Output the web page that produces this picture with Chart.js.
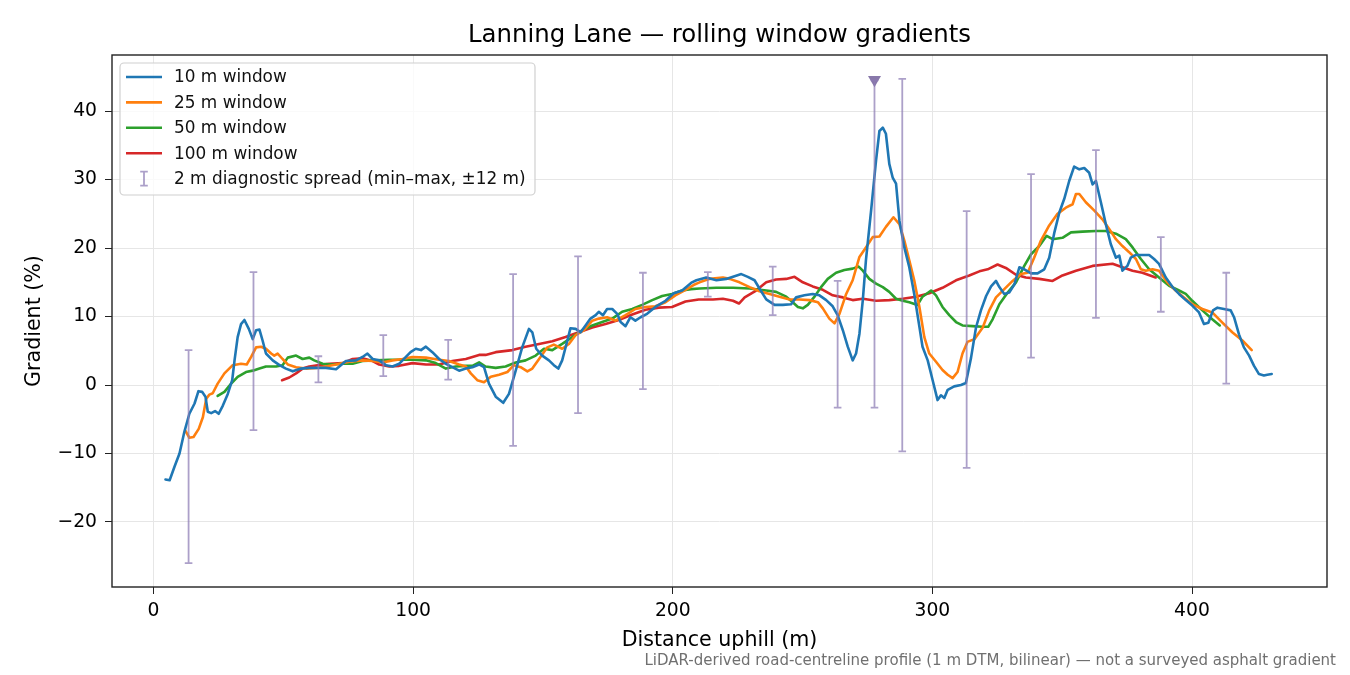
<!DOCTYPE html>
<html>
<head>
<meta charset="utf-8">
<title>Lanning Lane — rolling window gradients</title>
<script src="https://cdn.jsdelivr.net/npm/chart.js@4.4.1/dist/chart.umd.min.js"></script>
<style>
  html, body { margin: 0; padding: 0; background: #fff; }
  canvas { display: block; }
</style>
</head>
<body>
<canvas id="grafica" width="1350" height="675"></canvas>
<script>
// [distance m, gradient %]
const win10 = [
  [4.6,-13.8],[6.2,-13.9],[8.1,-11.9],[10,-10],[11.9,-6.8],[13.8,-4.2],[15.8,-2.7],[17.3,-0.9],[18.7,-1.0],[20,-1.7],
  [20.9,-3.9],[22.2,-4.1],[23.7,-3.8],[25.1,-4.2],[26.7,-3.0],[28.6,-1.3],[30.3,0.7],[31.2,3.6],[32.4,7.0],[33.7,8.9],
  [35,9.5],[36.7,8.2],[38.2,6.7],[39.5,8.0],[40.8,8.1],[42,6.5],[43.3,4.6],[45.9,3.6],[48.5,2.9],[51,2.4],
  [53.6,2.0],[56.8,2.4],[60,2.5],[63.2,2.5],[66.4,2.5],[70.3,2.3],[74.1,3.5],[78,3.6],[80.5,4.1],[82.4,4.6],
  [84.4,3.8],[86.9,3.6],[89.5,2.9],[92.1,2.7],[94.6,3.1],[97.2,4.1],[99,4.8],[101,5.3],[103,5.1],[104.9,5.6],
  [107.4,4.8],[110,3.8],[112.6,3.1],[115.1,2.6],[117.7,2.1],[120.3,2.4],[122.8,2.6],[125.4,3.0],[127.3,2.6],[129.2,0.2],
  [131.8,-1.7],[134.7,-2.6],[136.9,-1.3],[139.5,2.1],[142,5.5],[144.6,8.2],[145.9,7.7],[147.4,5.3],[149.7,4.3],[152.3,3.6],
  [154.2,2.9],[155.9,2.4],[157.4,3.6],[159.4,6.5],[160.6,8.3],[162.6,8.2],[164.5,7.7],[166.4,8.7],[168.3,9.7],[170.3,10.2],
  [171.5,10.7],[173.1,10.2],[174.7,11.1],[176.7,11.1],[178.6,10.4],[179.9,9.2],[181.8,8.6],[183.7,9.9],[185.6,9.4],[187.6,9.9],
  [190.1,10.4],[193.3,11.4],[197.2,12.3],[200.4,13.4],[203.6,13.8],[207.4,15.0],[209.1,15.3],[212.9,15.7],[216.8,15.3],[220.6,15.5],
  [223.8,15.9],[226.4,16.2],[228.9,15.8],[231.5,15.3],[233.4,14.1],[236,12.5],[239.2,11.7],[242.4,11.7],[245.6,11.8],[247.5,12.8],
  [250.7,13.1],[253.9,13.3],[256.5,13.1],[259.1,12.4],[261.6,11.5],[263.5,10.2],[265.5,8.0],[267.4,5.6],[269.3,3.6],[270.6,4.6],
  [271.9,7.5],[273.2,12.4],[274.4,18.2],[276.4,25.5],[278.3,32.8],[279.6,37.1],[280.9,37.6],[282.1,36.7],[283.4,32.3],[284.7,30.3],
  [286,29.4],[287.3,24.0],[289.2,20.1],[291.1,17.2],[293,13.3],[295,8.5],[296.2,5.6],[298.2,3.6],[300.1,0.7],[302,-2.2],
  [303.3,-1.5],[304.6,-1.9],[305.9,-0.7],[308.4,-0.2],[311,0],[312.9,0.3],[314.9,4.0],[316.8,8.4],[318.7,10.9],[320.7,13.0],
  [322.6,14.4],[324.5,15.2],[325.8,14.3],[327.7,13.3],[329.6,13.5],[331.6,14.7],[333.5,17.2],[335.4,16.9],[338,16.3],[340.5,16.3],
  [343.1,16.9],[345,18.6],[347,22.3],[348.9,25.2],[350.8,27.2],[352.7,29.8],[354.6,31.9],[356.6,31.5],[358.5,31.7],[360.4,31.0],
  [361.7,29.3],[363,29.8],[364.9,26.7],[366.8,23.5],[368.7,20.6],[370.7,18.6],[372,18.9],[373.2,16.7],[375.1,17.4],[376.4,18.6],
  [378.4,19.0],[380.9,19.0],[383.5,19.0],[385.4,18.4],[387.3,17.7],[389.9,15.7],[392.5,14.3],[395,13.3],[397.6,12.4],[400.1,11.6],
  [402.7,10.6],[404.6,8.9],[406.3,9.1],[408.1,10.9],[409.8,11.3],[412.3,11.1],[414.9,10.9],[416.2,9.9],[418.1,7.4],[420,5.5],
  [422,4.3],[423.9,2.8],[425.8,1.6],[427.7,1.4],[429,1.5],[430.7,1.6]
];

const win25 = [
  [12.3,-6.7],[13.8,-7.7],[15.4,-7.6],[17.4,-6.4],[19,-4.7],[20.3,-2.0],[21.5,-1.4],[22.8,-1.2],[24.7,0.2],[27.3,1.7],
  [30.5,2.9],[33.7,3.1],[35.9,3.0],[37.6,4.1],[39.5,5.5],[41.4,5.6],[43.3,5.3],[45.3,4.6],[46.5,4.3],[47.8,4.6],
  [49.7,3.8],[51.7,3.0],[54.9,2.6],[58.7,2.4],[62.6,2.5],[66.4,2.7],[70.3,3.0],[75.4,3.4],[80.5,3.6],[84.4,3.5],
  [88.2,3.3],[92.1,3.6],[95.9,3.8],[99.7,4.1],[104.9,4.0],[110,3.7],[113.8,3.5],[117.7,3.0],[120.3,2.7],[122.2,1.7],
  [124.7,0.7],[127.3,0.4],[129.9,1.2],[133.1,1.5],[136.3,1.9],[138.8,2.9],[141.4,2.6],[144,2.0],[145.9,2.4],[148.5,3.8],
  [151.7,5.5],[154.2,5.9],[157.4,5.3],[160,6.0],[162.6,7.3],[165.8,8.0],[169,9.4],[171.5,9.7],[174.7,9.9],[177.9,9.4],
  [181.8,10.2],[185.6,11.1],[189.5,11.4],[193.3,11.5],[197.2,12.1],[201,13.1],[204.9,13.9],[208,14.6],[210.3,15.0],[214.2,15.5],
  [219.3,15.7],[221.9,15.5],[225.7,15.0],[229.6,14.3],[233.4,13.7],[237.3,13.3],[241.1,12.9],[245,12.5],[248.8,12.5],[252.7,12.4],
  [255.9,12.1],[257.8,11.2],[260.3,9.7],[262.3,9.0],[264.2,10.4],[266.8,13.3],[269.3,15.3],[271.9,18.7],[274.4,20.1],[277,21.6],
  [279.6,21.7],[282.1,23.1],[285,24.5],[287.3,23.5],[289.2,21.1],[291.1,18.2],[293,15.3],[295,11.4],[296.9,7.0],[298.8,4.6],
  [301.4,3.4],[303.9,2.2],[305.9,1.5],[307.8,1.0],[309.7,1.9],[311.6,4.6],[313.5,6.3],[316.2,6.7],[319.4,8.4],[321.9,10.9],
  [324.5,12.8],[327.7,14.0],[330.9,15.2],[334.1,16.2],[336.7,16.4],[339.2,18.6],[341.8,21.1],[345,23.3],[348.2,25.0],[351.4,25.9],
  [354,26.4],[355.3,27.9],[356.6,27.9],[359.1,26.7],[362.3,25.5],[365.5,24.2],[368.1,22.8],[370.7,21.3],[373.2,20.3],[375.8,19.4],
  [378.4,18.4],[380.3,16.9],[382.2,16.7],[384.8,16.9],[387.3,16.7],[390.5,15.0],[393.7,13.8],[396.9,12.8],[400.1,11.8],[404,11.1],
  [407.8,10.6],[411.7,9.1],[415.5,7.7],[419.4,6.5],[423,5.1]
];

const win50 = [
  [24.7,-1.6],[27.3,-1.0],[29.9,0.2],[32.4,1.2],[35.6,1.9],[38.2,2.1],[40.8,2.4],[43.3,2.7],[47.2,2.7],[49.7,2.9],
  [51.7,4.0],[54.9,4.3],[57.4,3.8],[60,4.0],[61.9,3.6],[65.1,3.1],[69,3.0],[72.8,3.1],[76.7,3.1],[80.5,3.5],
  [85.6,3.6],[90.8,3.7],[95.9,3.7],[99.7,3.7],[104.9,3.6],[108.7,3.2],[112.6,2.4],[116.4,2.7],[120.3,2.8],[122.8,2.8],
  [125.4,3.3],[127.9,2.7],[131.8,2.5],[135.6,2.7],[139.5,3.3],[143.3,3.6],[147.2,4.3],[150.4,5.3],[153.6,5.1],[157.4,6.0],
  [161.3,7.0],[165.1,8.0],[169,8.7],[172.8,9.2],[176.7,9.7],[180.5,10.7],[184.4,11.1],[188.2,11.7],[192.1,12.4],[195.9,13.0],
  [199.7,13.3],[203.6,13.8],[207,14.0],[210.3,14.1],[216.8,14.2],[223.2,14.2],[229.6,14.1],[236,13.8],[239.8,13.6],[243.7,12.9],
  [246.2,12.1],[248.2,11.4],[250.1,11.2],[252,11.7],[254.6,12.9],[257.1,14.3],[259.7,15.5],[262.9,16.4],[266.1,16.8],[269.3,17.0],
  [271.6,17.3],[273.2,16.7],[275.7,15.5],[278.3,14.8],[280.9,14.3],[283.4,13.6],[286,12.6],[288.6,12.3],[291.1,12.1],[294.3,11.7],
  [296.2,12.9],[299.5,13.8],[301.4,13.1],[303.9,11.4],[306.5,10.2],[309.1,9.2],[311.6,8.7],[315.5,8.6],[319.3,8.5],[321.5,8.5],
  [323.2,9.6],[325.8,11.8],[329,13.5],[332.2,15.0],[335.4,17.4],[338,19.1],[341.2,20.3],[344,21.8],[346.3,21.3],[350.1,21.5],
  [353.4,22.3],[357.8,22.4],[363,22.5],[366.8,22.5],[370.7,22.1],[374.5,21.3],[377.1,20.1],[380.3,18.4],[383.5,16.9],[387.3,15.7],
  [391.2,14.5],[395,13.8],[397.6,13.3],[400.1,12.3],[404,10.9],[407.8,9.6],[410.7,8.7]
];

const win100 = [
  [49.5,0.7],[52.3,1.1],[54.9,1.7],[57.4,2.4],[60,2.7],[63.8,2.9],[67.7,3.1],[72.8,3.2],[76.7,3.8],[80.5,3.9],
  [84.4,3.5],[86.9,3.0],[90.8,2.7],[94.6,2.8],[99.7,3.2],[104.9,3.0],[110,3.0],[115.1,3.5],[120.3,3.8],[125.4,4.4],
  [127.9,4.4],[131.8,4.8],[138.2,5.1],[143.3,5.6],[148.5,6.0],[153.6,6.4],[158.7,7.0],[163.8,7.7],[169,8.4],[174.1,8.9],
  [179.2,9.5],[184.4,10.3],[189.5,11.0],[194.6,11.3],[199.7,11.4],[204.9,12.2],[210,12.5],[215.5,12.5],[219.3,12.6],[223.2,12.3],
  [225.5,11.9],[227.7,12.8],[232.1,13.8],[236,15.0],[239.8,15.4],[243.7,15.5],[246.9,15.8],[250.1,15.0],[253.9,14.4],[257.8,13.9],
  [261.6,13.1],[265.5,12.8],[269.3,12.4],[273.2,12.6],[278.3,12.3],[283.4,12.4],[288.6,12.6],[293.7,12.9],[298.8,13.4],[303.9,14.2],
  [309.1,15.3],[314.2,16.0],[318.1,16.6],[321.3,16.9],[325.1,17.6],[328.3,17.1],[332.2,16.1],[336,15.7],[341.2,15.5],[346.3,15.2],
  [350.1,16.0],[355.3,16.7],[361.7,17.4],[369.4,17.7],[373.2,17.2],[377.1,16.7],[380.9,16.4],[386,15.7]
];

// 2 m diagnostic spread (min / max over ±12 m)
const spreadDist = [13.5, 38.5, 63.5, 88.5, 113.5, 138.5, 163.5, 188.5, 213.5, 238.5, 263.5, 277.7, 288.4, 313.2, 338, 363, 388, 413.2];
const spreadMin  = [-26.0, -6.6, 0.4, 1.3, 0.8, -8.9, -4.1, -0.6, 12.9, 10.2, -3.3, -3.3, -9.7, -12.1, 4.0, 9.8, 10.7, 0.2];
const spreadMax  = [5.1, 16.5, 4.2, 7.3, 6.6, 16.2, 18.8, 16.4, 16.5, 17.3, 15.2, 44.5, 44.7, 25.4, 30.8, 34.3, 21.6, 16.4];

// steepest 2 m sample (marker at top of its spread)
const peakMark = [277.7, 44.6];

const xTicks = [0, 100, 200, 300, 400];
const yTicks = [-20, -10, 0, 10, 20, 30, 40];

const seriesLabels = ["10 m window", "25 m window", "50 m window", "100 m window"];
const seriesColors = ["#1f77b4", "#ff7f0e", "#2ca02c", "#d62728"];
const spreadLabel = "2 m diagnostic spread (min\u2013max, \u00b112 m)";
const spreadColor = "rgba(140,124,180,0.72)";

const FONT = "'DejaVu Sans', 'Liberation Sans', sans-serif";

const aPuntos = arr => arr.map(([x, y]) => ({ x, y }));

const datasets = [win10, win25, win50, win100].map((serie, i) => ({
  type: "line",
  label: seriesLabels[i],
  data: aPuntos(serie),
  borderColor: seriesColors[i],
  borderWidth: 2.6,
  borderJoinStyle: "round",
  borderCapStyle: "round",
  pointRadius: 0,
  tension: 0,
  fill: false
}));

datasets.push({
  type: "scatter",
  label: "peak",
  data: [{ x: peakMark[0], y: peakMark[1] }],
  pointStyle: "triangle",
  rotation: 180,
  pointRadius: 7.5,
  backgroundColor: "#8878aa",
  borderColor: "#8878aa",
  borderWidth: 0
});

// Barras de error con las escalas del gráfico
const barrasError = {
  id: "barrasError",
  afterDatasetsDraw(chart) {
    const { ctx, scales: { x, y }, chartArea } = chart;
    ctx.save();
    ctx.beginPath();
    ctx.rect(chartArea.left, chartArea.top, chartArea.right - chartArea.left, chartArea.bottom - chartArea.top);
    ctx.clip();
    ctx.strokeStyle = spreadColor;
    ctx.lineWidth = 1.8;
    spreadDist.forEach((d, i) => {
      const px = x.getPixelForValue(d);
      const y0 = y.getPixelForValue(spreadMin[i]);
      const y1 = y.getPixelForValue(spreadMax[i]);
      ctx.beginPath();
      ctx.moveTo(px, y0); ctx.lineTo(px, y1);
      ctx.moveTo(px - 3.8, y0); ctx.lineTo(px + 3.8, y0);
      ctx.moveTo(px - 3.8, y1); ctx.lineTo(px + 3.8, y1);
      ctx.stroke();
    });
    ctx.restore();
  }
};

// Marco, leyenda, título y nota
const decoracion = {
  id: "decoracion",
  afterDraw(chart) {
    const { ctx, chartArea } = chart;
    ctx.save();

    ctx.strokeStyle = "#222";
    ctx.lineWidth = 1.4;
    ctx.strokeRect(chartArea.left, chartArea.top, chartArea.right - chartArea.left, chartArea.bottom - chartArea.top);

    // leyenda
    const lx = chartArea.left + 8, ly = chartArea.top + 8, lw = 415, lh = 132;
    ctx.beginPath();
    ctx.roundRect(lx, ly, lw, lh, 4);
    ctx.fillStyle = "rgba(255,255,255,0.8)";
    ctx.fill();
    ctx.strokeStyle = "#d0d0d0";
    ctx.lineWidth = 1.2;
    ctx.stroke();

    ctx.font = "16.9px " + FONT;
    ctx.textBaseline = "middle";
    ctx.textAlign = "left";
    const filas = seriesLabels.concat([spreadLabel]);
    filas.forEach((txt, i) => {
      const cy = ly + 14 + i * 25.4;
      if (i < seriesLabels.length) {
        ctx.strokeStyle = seriesColors[i];
        ctx.lineWidth = 2.6;
        ctx.beginPath();
        ctx.moveTo(lx + 6, cy); ctx.lineTo(lx + 42, cy);
        ctx.stroke();
      } else {
        const cx = lx + 24;
        ctx.strokeStyle = spreadColor;
        ctx.lineWidth = 1.8;
        ctx.beginPath();
        ctx.moveTo(cx, cy - 7); ctx.lineTo(cx, cy + 7);
        ctx.moveTo(cx - 3.8, cy - 7); ctx.lineTo(cx + 3.8, cy - 7);
        ctx.moveTo(cx - 3.8, cy + 7); ctx.lineTo(cx + 3.8, cy + 7);
        ctx.stroke();
      }
      ctx.fillStyle = "#111";
      ctx.fillText(txt, lx + 54, cy + 1);
    });

    // título
    ctx.fillStyle = "#000";
    ctx.font = "24.4px " + FONT;
    ctx.textAlign = "center";
    ctx.textBaseline = "alphabetic";
    ctx.fillText("Lanning Lane \u2014 rolling window gradients", (chartArea.left + chartArea.right) / 2, 42);

    // nota al pie
    ctx.fillStyle = "#707070";
    ctx.font = "15px " + FONT;
    ctx.textAlign = "right";
    ctx.fillText("LiDAR-derived road-centreline profile (1 m DTM, bilinear) \u2014 not a surveyed asphalt gradient", 1336, 665);

    ctx.restore();
  }
};

const fmt = v => (v < 0 ? "\u2212" + Math.abs(v) : String(v));

new Chart(document.getElementById("grafica").getContext("2d"), {
  data: { datasets },
  plugins: [barrasError, decoracion],
  options: {
    responsive: false,
    animation: false,
    events: [],
    layout: { padding: { top: 55, right: 23, left: 0, bottom: 0 } },
    plugins: {
      legend: { display: false },
      title: { display: false },
      tooltip: { enabled: false }
    },
    scales: {
      x: {
        type: "linear",
        min: -16,
        max: 452,
        afterBuildTicks: s => { s.ticks = xTicks.map(v => ({ value: v })); },
        afterFit: s => { s.height = 88; },
        ticks: { color: "#000", font: { family: FONT, size: 18.75 }, padding: 6, callback: fmt, maxRotation: 0 },
        grid: { color: "#e6e6e6", lineWidth: 1, tickColor: "#222", tickLength: 7 },
        border: { display: false },
        title: { display: true, text: "Distance uphill (m)", color: "#000", font: { family: FONT, size: 20.6 }, padding: { top: 0, bottom: 22 } }
      },
      y: {
        type: "linear",
        min: -29.5,
        max: 48.2,
        afterBuildTicks: s => { s.ticks = yTicks.map(v => ({ value: v })); },
        afterFit: s => { s.width = 112; },
        ticks: { color: "#000", font: { family: FONT, size: 18.75 }, padding: 8, callback: fmt },
        grid: { color: "#e6e6e6", lineWidth: 1, tickColor: "#222", tickLength: 7 },
        border: { display: false },
        title: { display: true, text: "Gradient (%)", color: "#000", font: { family: FONT, size: 20.6 }, padding: { top: 22, bottom: 0 } }
      }
    }
  }
});
</script>
</body>
</html>
